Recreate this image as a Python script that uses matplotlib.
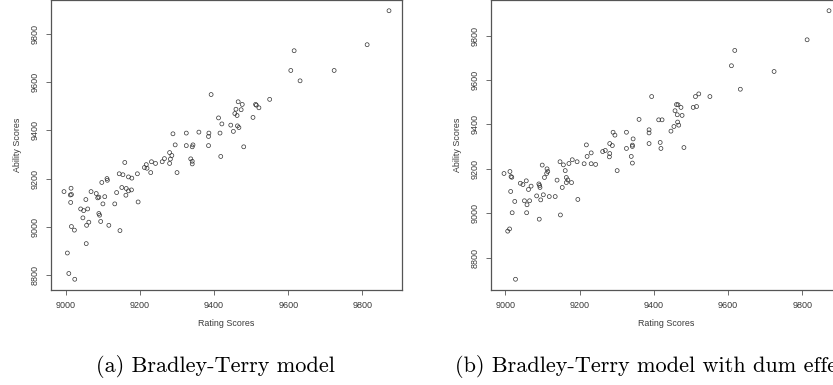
import matplotlib
matplotlib.use("Agg")
import matplotlib.pyplot as plt

# Panel (a): Bradley-Terry model
rating_a = [9872, 9813, 9616, 9607, 9724, 9632, 9392, 9550, 9465, 9476, 9512, 9514, 9521,
            9459, 9473, 9456, 9462, 9412, 9505, 9421, 9445, 9463, 9467, 9452, 9359, 9386,
            9416, 9325, 9289, 9385, 9295, 9325, 9385, 9343, 9341, 9480, 9418, 9280, 9286,
            9266, 9260, 9280, 9282, 9337, 9341, 9341, 9231, 9242, 9217, 9212, 9219, 9159,
            9300, 9229, 9144, 9154, 9193, 9169, 9178, 9111, 9112, 9097, 9151, 9163, 9169,
            9177, 9137, 9162, 9068, 9082, 9012, 9015, 8995, 9014, 9086, 9089, 9105, 9054,
            9013, 9100, 9132, 9195, 9040, 9048, 9059, 9089, 9091, 9046, 9062, 9056, 9094,
            9116, 9015, 9023, 9146, 9055, 9004, 9008, 9024]
ability_a = [9897, 9756, 9731, 9649, 9649, 9606, 9549, 9529, 9519, 9508, 9508, 9505, 9494,
             9488, 9486, 9470, 9462, 9452, 9454, 9427, 9422, 9419, 9412, 9396, 9393, 9389,
             9389, 9389, 9386, 9375, 9340, 9337, 9337, 9340, 9332, 9332, 9292, 9308, 9296,
             9283, 9270, 9263, 9281, 9282, 9272, 9261, 9270, 9263, 9258, 9246, 9243, 9267,
             9225, 9225, 9220, 9216, 9220, 9207, 9202, 9200, 9193, 9184, 9163, 9159, 9149,
             9153, 9142, 9131, 9146, 9138, 9132, 9134, 9146, 9160, 9120, 9123, 9125, 9113,
             9101, 9095, 9095, 9103, 9074, 9067, 9074, 9055, 9048, 9037, 9019, 9006, 9022,
             9006, 9001, 8986, 8984, 8930, 8891, 8806, 8782]

# Panel (b): Bradley-Terry model with dum effect
rating_b = [9872, 9813, 9618, 9609, 9724, 9633, 9394, 9551, 9521, 9512, 9515, 9506, 9461,
            9465, 9473, 9457, 9463, 9476, 9360, 9413, 9422, 9464, 9467, 9454, 9446, 9387,
            9387, 9290, 9326, 9295, 9344, 9417, 9387, 9281, 9288, 9342, 9342, 9218, 9326,
            9419, 9481, 9262, 9269, 9231, 9281, 9280, 9339, 9220, 9180, 9193, 9147, 9171,
            9156, 9099, 9212, 9231, 9243, 9342, 9112, 9114, 9161, 9301, 8996, 9012, 9015,
            9017, 9111, 9105, 9164, 9168, 9164, 9178, 9139, 9056, 9040, 9047, 9090, 9092,
            9069, 9093, 9062, 9153, 9014, 9102, 9084, 9118, 9134, 9095, 9195, 9025, 9051,
            9065, 9058, 9018, 9057, 9148, 9091, 9011, 9006, 9027]
ability_b = [9913, 9782, 9734, 9665, 9639, 9559, 9526, 9526, 9538, 9526, 9481, 9477, 9490,
             9489, 9477, 9462, 9444, 9441, 9423, 9421, 9421, 9411, 9397, 9391, 9370, 9376,
             9362, 9365, 9365, 9352, 9335, 9319, 9314, 9314, 9305, 9307, 9301, 9308, 9292,
             9292, 9296, 9278, 9283, 9272, 9269, 9254, 9256, 9256, 9241, 9232, 9232, 9224,
             9218, 9217, 9223, 9223, 9220, 9226, 9200, 9188, 9192, 9192, 9179, 9188, 9165,
             9162, 9179, 9161, 9161, 9150, 9138, 9138, 9149, 9146, 9135, 9129, 9132, 9125,
             9122, 9116, 9107, 9116, 9098, 9083, 9078, 9075, 9075, 9060, 9062, 9053, 9056,
             9056, 9038, 9002, 9002, 8992, 8973, 8929, 8919, 8702]

x_ticks = [9000, 9200, 9400, 9600, 9800]
y_ticks = [8800, 9000, 9200, 9400, 9600, 9800]
captions = ["(a) Bradley-Terry model", "(b) Bradley-Terry model with dum effect"]

W, H = 833, 385
fig = plt.figure(figsize=(W / 100, H / 100), dpi=100)
fig.patch.set_facecolor("white")

text_col = "#3a3a3a"
spine_col = "#555555"


def r_range(v):
    lo, hi = min(v), max(v)
    d = (hi - lo) * 0.04
    return lo - d, hi + d


panels = [
    (51, rating_a, ability_a),
    (491, rating_b, ability_b),
]

for i, (left_px, xs, ys) in enumerate(panels):
    ax = fig.add_axes([left_px / W, (H - 290) / H, 351 / W, 290 / H])
    ax.scatter(xs, ys, s=8, facecolors="none", edgecolors="#333333", linewidths=0.5)
    ax.set_xlim(*r_range(xs))
    ax.set_ylim(*r_range(ys))
    ax.set_xticks(x_ticks)
    ax.set_yticks(y_ticks)
    ax.set_xticklabels([str(t) for t in x_ticks], family="Liberation Sans",
                       fontsize=6.5, color=text_col)
    ax.set_yticklabels([str(t) for t in y_ticks], family="Liberation Sans",
                       fontsize=6.5, color=text_col, rotation=90, va="center")
    ax.tick_params(direction="out", length=3.6, width=0.6, color=spine_col, pad=4.5)
    for sp in ax.spines.values():
        sp.set_color(spine_col)
        sp.set_linewidth(0.9)
    ax.set_xlabel("Rating Scores", family="Liberation Sans", fontsize=6.4,
                  color=text_col, labelpad=6.5)
    ax.set_ylabel("Ability Scores", family="Liberation Sans", fontsize=6.4,
                  color=text_col, labelpad=6.5)

fig.text(96 / W, 1 - 367 / H, captions[0], family="cmr10", fontsize=16,
         ha="left", va="center", color="black")
fig.text(455 / W, 1 - 367 / H, captions[1], family="cmr10", fontsize=16,
         ha="left", va="center", color="black")

fig.savefig("out.png", dpi=100, facecolor="white")
